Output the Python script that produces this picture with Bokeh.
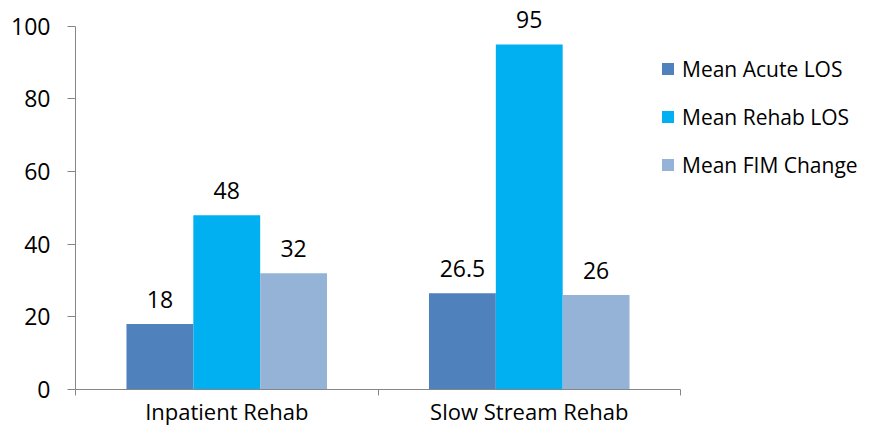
from bokeh.plotting import figure
from bokeh.models import (Range1d, FixedTicker, ColumnDataSource, LabelSet,
                          Legend, LegendItem)
from bokeh.core.properties import value
from bokeh.embed import file_html
from bokeh.resources import INLINE

categories = ["Inpatient Rehab", "Slow Stream Rehab"]
series_names = ["Mean Acute LOS", "Mean Rehab LOS", "Mean FIM Change"]
mean_acute_los = [18, 26.5]
mean_rehab_los = [48, 95]
mean_fim_change = [32, 26]
colors = ["#4F81BD", "#00B0F0", "#95B3D7"]
y_ticks = [0, 20, 40, 60, 80, 100]
y_max = 100

FONT = "Open Sans"
FS = "23px"
FS_X = "22px"
FS_LEG = "21px"

W, H = 864, 428
LEFT, BOTTOM = 75, 36
Y_TOP_PX = 26      # pixel row of the top of the y axis
AXIS_PX = 605      # visible extent of the x axis in pixels
frame_w = W - LEFT
frame_h = H - BOTTOM
n = len(categories)
x_end = n * frame_w / AXIS_PX
y_end = y_max * frame_h / (frame_h - Y_TOP_PX)

p = figure(width=W, height=H, output_backend="svg", toolbar_location=None,
           x_range=Range1d(0, x_end), y_range=Range1d(0, y_end),
           min_border_left=LEFT, min_border_right=0, min_border_top=0,
           min_border_bottom=BOTTOM)
p.outline_line_color = None
p.xgrid.visible = False
p.ygrid.visible = False

bar_w = 0.221
offsets = [-bar_w, 0.0, bar_w]
all_series = [mean_acute_los, mean_rehab_los, mean_fim_change]
items = []
for name, vals, off, col in zip(series_names, all_series, offsets, colors):
    xs = [i + 0.5 + off for i in range(n)]
    src = ColumnDataSource(dict(x=xs, top=vals, lab=[f"{v:g}" for v in vals]))
    r = p.vbar(x="x", top="top", width=bar_w, source=src, fill_color=col,
               line_color=None)
    items.append(LegendItem(label=name, renderers=[r]))
    p.add_layout(LabelSet(x="x", y="top", text="lab", source=src,
                          text_align="center", text_baseline="alphabetic",
                          y_offset=16, text_font=value(FONT),
                          text_font_size=value(FS), text_color="#000000"))

# y axis
p.yaxis.ticker = FixedTicker(ticks=y_ticks)
p.yaxis.bounds = (0, y_max)
p.yaxis.minor_tick_line_color = None
p.yaxis.major_tick_in = 0
p.yaxis.major_tick_out = 8
p.yaxis.major_label_standoff = 17
p.yaxis.axis_line_color = "#868686"
p.yaxis.major_tick_line_color = "#868686"
p.yaxis.major_label_text_font = FONT
p.yaxis.major_label_text_font_size = FS
p.yaxis.major_label_text_color = "#000000"

# x axis: labels at category centres, ticks at category boundaries
centers = [i + 0.5 for i in range(n)]
p.xaxis.ticker = FixedTicker(ticks=centers, minor_ticks=list(range(n + 1)))
p.xaxis.bounds = (0, n)
p.xaxis.major_label_overrides = {c: lab for c, lab in zip(centers, categories)}
p.xaxis.major_tick_line_color = None
p.xaxis.major_tick_out = 6
p.xaxis.major_tick_in = 0
p.xaxis.minor_tick_in = 0
p.xaxis.minor_tick_out = 6
p.xaxis.minor_tick_line_color = "#868686"
p.xaxis.axis_line_color = "#868686"
p.xaxis.major_label_standoff = 0
p.xaxis.major_label_text_font = FONT
p.xaxis.major_label_text_font_size = FS_X
p.xaxis.major_label_text_color = "#000000"

legend = Legend(items=items, location=(585, 209), orientation="vertical",
                glyph_width=15, glyph_height=15, label_height=31,
                spacing=17, padding=0, margin=0, label_standoff=7,
                label_text_font=FONT, label_text_font_size=FS_LEG,
                label_text_color="#000000",
                border_line_color=None, background_fill_alpha=0)
p.add_layout(legend, "center")

open("out.html", "w").write(file_html(p, INLINE))
